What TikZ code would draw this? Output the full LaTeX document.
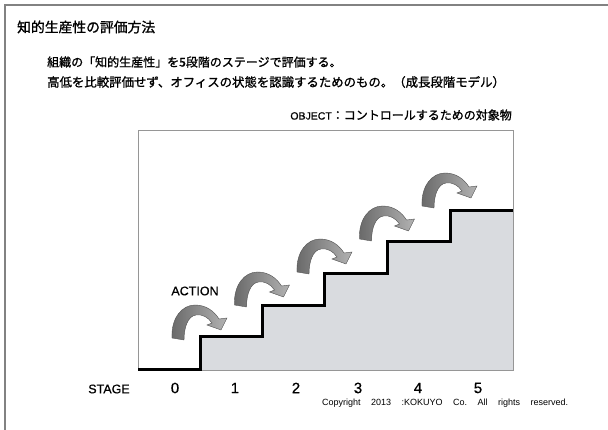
\documentclass[tikz,border=0pt]{standalone}
\usepackage{fontspec}
\setmainfont{Liberation Sans}
\newfontfamily\jp{Noto Sans CJK JP}[FakeBold=1.2]
\newfontfamily\lab{Liberation Sans}[FakeBold=0.6]
\definecolor{framegray}{RGB}{130,130,130}
\definecolor{boxgray}{RGB}{150,150,150}
\definecolor{stairfill}{RGB}{217,219,223}
\definecolor{arrowdark}{RGB}{105,105,105}
\definecolor{arrowlight}{RGB}{178,178,178}
\definecolor{arrowline}{RGB}{80,80,80}
\tikzset{
  titletext/.style={font={\jp\fontsize{13.8}{16}\selectfont}, inner sep=0pt, anchor=west},
  jptext/.style={font={\jp\fontsize{12}{14}\selectfont}, inner sep=0pt, anchor=west},
  labeltext/.style={font={\lab\fontsize{12.5}{14}\selectfont}, inner sep=0pt},
  digittext/.style={font={\lab\fontsize{15}{17}\selectfont}, inner sep=0pt},
  stairline/.style={line width=3pt, line join=miter, black},
  actarrow/.pic={
    \shadedraw[left color=arrowdark, right color=arrowlight, draw=arrowline, line width=0.4pt]
      (-6,-1) .. controls (-7,-21) and (4,-34) .. (17,-34)
      .. controls (28,-34) and (36,-28) .. (41,-20)
      -- (49,-21) -- (43,-9) -- (29,-14) -- (34,-16)
      .. controls (30,-22) and (24,-25) .. (18,-24)
      .. controls (10,-23) and (6,-12) .. (6,1) -- cycle;
  }
}
\begin{document}
\frenchspacing
\begin{tikzpicture}[x=1pt,y=-1pt]
\useasboundingbox (0,0) rectangle (608,430);
\fill[white] (0,0) rectangle (608,430);
% outer frame
\draw[framegray, line width=1.5pt] (5,430) -- (5,5) -- (608,5);
% texts
\node[titletext] (title) at (17,27) {知的生産性の評価方法};
\node[jptext] (line1) at (47,62) {組織の「知的生産性」を5段階のステージで評価する。};
\node[jptext, font={\jp\fontsize{12.4}{14}\selectfont}] (line2) at (47,82) {高低を比較評価せず、オフィスの状態を認識するためのもの。（成長段階モデル）};
\node[inner sep=0pt, anchor=east] (object) at (512,115)
  {{\lab\fontsize{10.5}{12}\selectfont OBJECT}{\jp\fontsize{12}{14}\selectfont ：コントロールするための対象物}};
% box and stairs
\fill[stairfill] (200,370) -- (200,337) -- (262,337) -- (262,305.5) -- (324,305.5) -- (324,274)
  -- (387,274) -- (387,242) -- (450,242) -- (450,211) -- (513,211) -- (513,370) -- cycle;
\draw[boxgray, line width=0.8pt] (138,130) rectangle (513,370);
\draw[stairline] (138,370) -- (200,370) -- (200,337) -- (262,337) -- (262,305.5) -- (324,305.5)
  -- (324,274) -- (387,274) -- (387,242) -- (450,242) -- (450,211) -- (513,211);
% action arrows
\foreach \i in {0,...,4} {
  \pic at ({178+62.5*\i},{339-33*\i}) {actarrow};
}
\node[labeltext] (action) at (195,291) {ACTION};
% stage labels
\node[labeltext] (stage) at (109,389) {STAGE};
\foreach \i/\x in {0/175,1/235,2/296,3/358,4/418,5/478} {
  \node[digittext] (s\i) at (\x,388) {\i};
}
\node[inner sep=0pt, anchor=west, font={\fontsize{9}{11}\selectfont}] (copy) at (322,403)
  {\makebox[246pt][s]{Copyright 2013 :KOKUYO Co. All rights reserved.}};
\end{tikzpicture}
\end{document}
